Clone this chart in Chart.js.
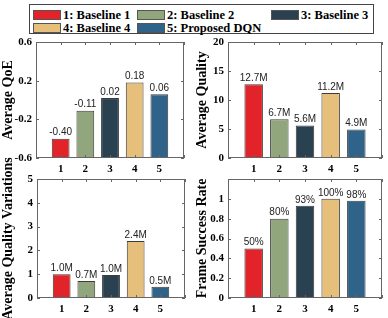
<!DOCTYPE html>
<html>
<head>
<meta charset="utf-8">
<script src="https://cdn.jsdelivr.net/npm/chart.js@4.4.0/dist/chart.umd.min.js"></script>
<style>
    body { margin: 0; background: #fff; }
    #wrap { position: relative; width: 388px; height: 318px; overflow: hidden; }
    #wrap canvas { position: absolute; }
    #legend {
        position: absolute; left: 29px; top: 4px; width: 345px; height: 30px;
        border: 1px solid #444; box-sizing: border-box;
        font: bold 12.5px "Liberation Serif", serif; color: #000;
    }
    .item { position: absolute; display: flex; align-items: center; white-space: nowrap; height: 14px; }
    .sw { width: 28px; height: 10px; border: 1px solid #555; box-sizing: border-box; margin-right: 2px; }
</style>
</head>
<body>
<div id="wrap">
    <div id="legend"></div>
    <canvas id="qoeChart"></canvas>
    <canvas id="qualityChart"></canvas>
    <canvas id="variationChart"></canvas>
    <canvas id="successChart"></canvas>
</div>
<script>
const categories = ["1", "2", "3", "4", "5"];
const methodNames = ["1: Baseline 1", "2: Baseline 2", "3: Baseline 3", "4: Baseline 4", "5: Proposed DQN"];
const barColors = ["#e2232a", "#92a67d", "#2a4152", "#e6c07a", "#306389"];

const qoeValues = [-0.40, -0.11, 0.02, 0.18, 0.06];
const qoeLabels = ["-0.40", "-0.11", "0.02", "0.18", "0.06"];
const qoeTicks = [-0.6, -0.2, 0.2, 0.6];

const qualityValues = [12.7, 6.7, 5.6, 11.2, 4.9];
const qualityLabels = ["12.7M", "6.7M", "5.6M", "11.2M", "4.9M"];
const qualityTicks = [0, 5, 10, 15, 20];

const variationValues = [1.0, 0.71, 0.97, 2.39, 0.47];
const variationLabels = ["1.0M", "0.7M", "1.0M", "2.4M", "0.5M"];
const variationTicks = [0, 1, 2, 3, 4, 5];

const successValues = [0.50, 0.80, 0.93, 1.00, 0.98];
const successLabels = ["50%", "80%", "93%", "100%", "98%"];
const successTicks = [0, 0.2, 0.4, 0.6, 0.8, 1];

// legend (HTML, two rows)
const legendSpots = [[3, 3], [107, 3], [241, 3], [3, 16], [107, 16]];
const legend = document.getElementById("legend");
methodNames.forEach((name, i) => {
    const it = document.createElement("div");
    it.className = "item";
    it.style.left = legendSpots[i][0] + "px";
    it.style.top = legendSpots[i][1] + "px";
    it.innerHTML = `<span class="sw" style="background:${barColors[i]}"></span>${name}`;
    legend.appendChild(it);
});

// box round the plot area with inward ticks, like the matlab figure
const framePlugin = {
    id: "frame",
    afterDraw(chart) {
        const { ctx, chartArea: a, scales: { x, y } } = chart;
        ctx.save();
        ctx.strokeStyle = "#666";
        ctx.lineWidth = 1;
        ctx.strokeRect(Math.round(a.left) + 0.5, Math.round(a.top) + 0.5,
            Math.round(a.width) - 1, Math.round(a.height) - 1);
        const len = 3;
        ctx.beginPath();
        x.ticks.forEach((t, i) => {
            const px = Math.round(x.getPixelForTick(i)) + 0.5;
            ctx.moveTo(px, a.bottom); ctx.lineTo(px, a.bottom - len);
            ctx.moveTo(px, a.top); ctx.lineTo(px, a.top + len);
        });
        y.ticks.forEach(t => {
            const py = Math.round(y.getPixelForValue(t.value)) + 0.5;
            ctx.moveTo(a.left, py); ctx.lineTo(a.left + len, py);
            ctx.moveTo(a.right, py); ctx.lineTo(a.right - len, py);
        });
        ctx.stroke();
        ctx.restore();
    }
};

const valueLabelPlugin = {
    id: "valueLabels",
    afterDatasetsDraw(chart, args, opts) {
        const { ctx } = chart;
        const meta = chart.getDatasetMeta(0);
        ctx.save();
        ctx.font = '10px "Liberation Sans", Arial, sans-serif';
        ctx.fillStyle = "#222";
        ctx.textAlign = "center";
        ctx.textBaseline = "bottom";
        meta.data.forEach((bar, i) => {
            const txt = opts.labels[i];
            if (txt) ctx.fillText(txt, bar.x, bar.y - 1);
        });
        ctx.restore();
    }
};

const pad = arr => [null, ...arr, null];
const serifBold = size => ({ family: '"Liberation Serif", "Times New Roman", serif', weight: "bold", size });

function makePanel(id, box, values, labels, ticks, min, max, title) {
    const canvas = document.getElementById(id);
    canvas.width = box.w;
    canvas.height = box.h;
    canvas.style.left = box.left + "px";
    canvas.style.top = box.top + "px";

    return new Chart(canvas.getContext("2d"), {
        type: "bar",
        data: {
            labels: ["", ...categories, ""],
            datasets: [{
                data: pad(values),
                base: min,
                backgroundColor: pad(barColors),
                borderColor: "#3c3c3c",
                borderWidth: 1,
                categoryPercentage: 1,
                barPercentage: 0.72
            }]
        },
        plugins: [framePlugin, valueLabelPlugin],
        options: {
            responsive: false,
            animation: false,
            layout: { padding: { top: box.padTop, right: box.padRight, left: 0, bottom: 0 } },
            plugins: {
                legend: { display: false },
                tooltip: { enabled: false },
                valueLabels: { labels: pad(labels) }
            },
            scales: {
                x: {
                    offset: false,
                    grid: { display: false, drawTicks: false },
                    border: { display: false },
                    ticks: { color: "#000", font: serifBold(11), padding: 5, autoSkip: false, maxRotation: 0 },
                    afterFit: s => { s.height = 20; }
                },
                y: {
                    min, max,
                    grid: { display: false, drawTicks: false },
                    border: { display: false },
                    ticks: { color: "#000", font: serifBold(11), padding: 4, callback: v => String(v) },
                    afterBuildTicks: s => { s.ticks = ticks.map(v => ({ value: v })); },
                    afterFit: s => { s.width = box.yWidth; },
                    title: { display: true, text: title, color: "#000", font: serifBold(14), padding: 0 }
                }
            }
        }
    });
}

makePanel("qoeChart", { left: 0, top: 30, w: 192, h: 148, padTop: 12, padRight: 8, yWidth: 36 },
    qoeValues, qoeLabels, qoeTicks, -0.6, 0.6, "Average QoE");
makePanel("qualityChart", { left: 194, top: 30, w: 194, h: 148, padTop: 12, padRight: 6, yWidth: 34 },
    qualityValues, qualityLabels, qualityTicks, 0, 20, "Average Quality");
makePanel("variationChart", { left: 0, top: 150, w: 193, h: 168, padTop: 29, padRight: 8, yWidth: 37 },
    variationValues, variationLabels, variationTicks, 0, 5, "Average Quality Variations");
makePanel("successChart", { left: 194, top: 150, w: 194, h: 168, padTop: 29, padRight: 6, yWidth: 34 },
    successValues, successLabels, successTicks, 0, 1.2, "Frame Success Rate");
</script>
</body>
</html>
